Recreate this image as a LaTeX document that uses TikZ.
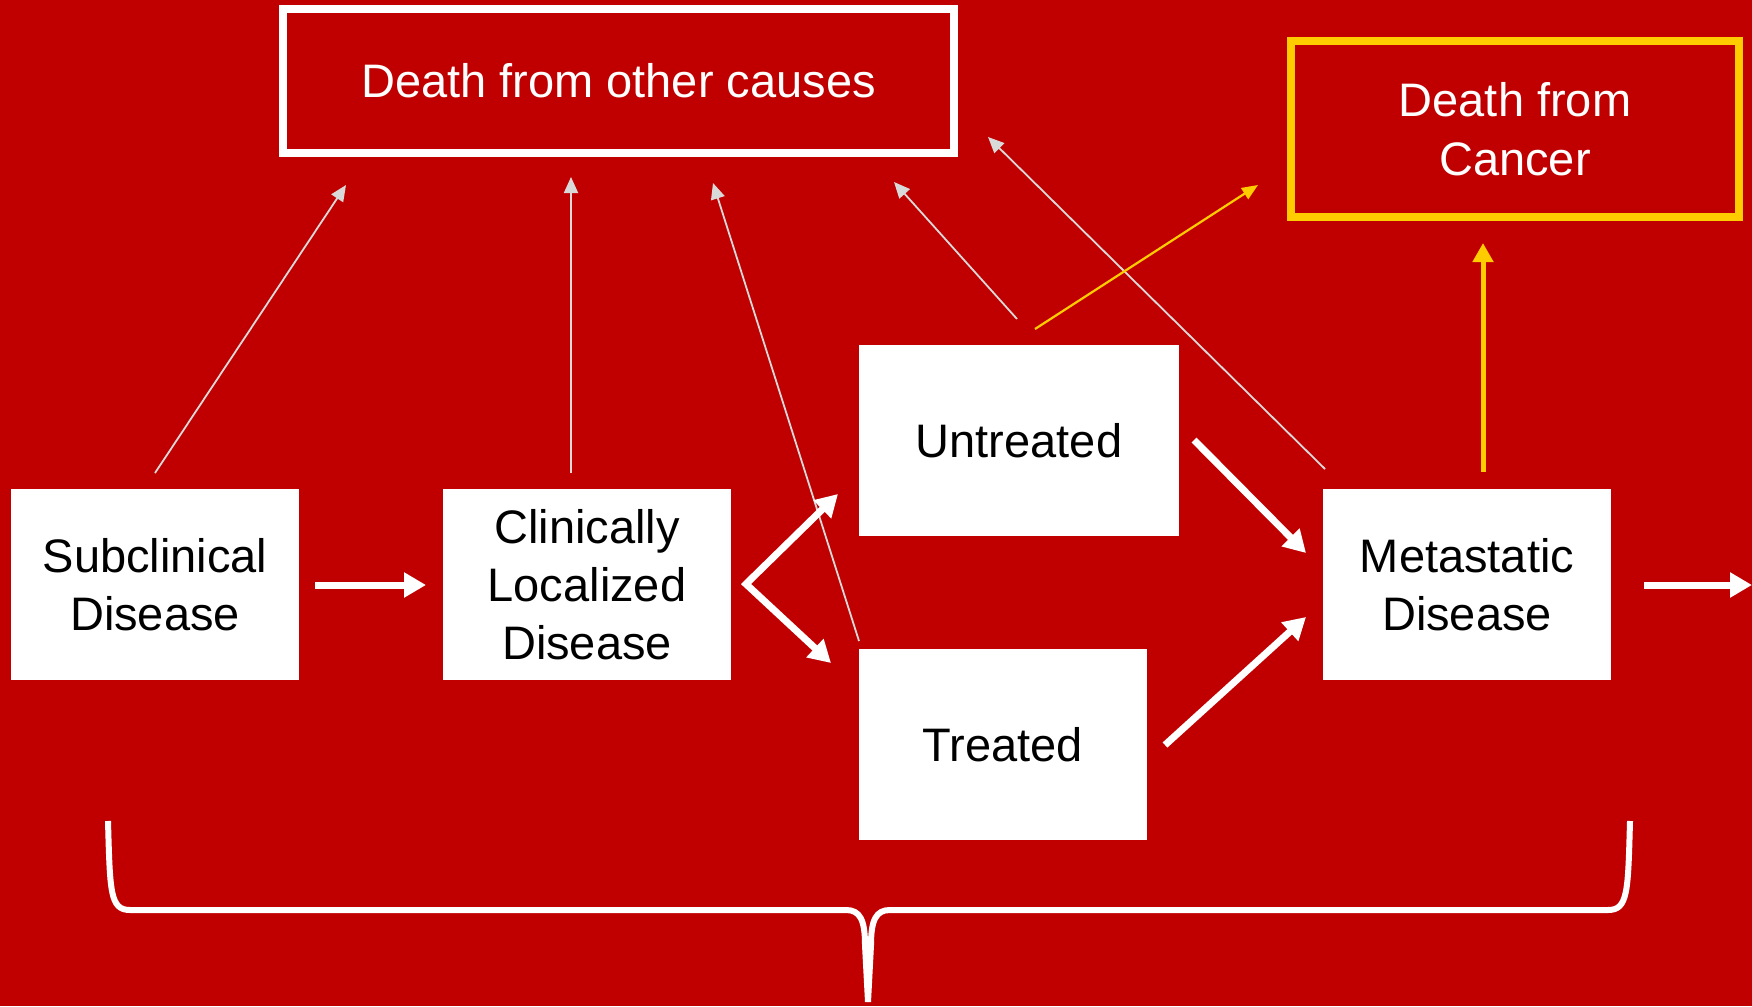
\documentclass[tikz,border=0pt]{standalone}
\usepackage{fontspec}
\setmainfont{Liberation Sans}
\usetikzlibrary{arrows.meta}
\definecolor{bgred}{RGB}{192,0,0}
\definecolor{lgray}{RGB}{217,217,217}
\definecolor{gold}{RGB}{255,204,0}
\begin{document}
\begin{tikzpicture}[x=1pt,y=-1pt,
  box/.style={fill=white, draw=none, minimum width=288pt, minimum height=191pt, inner sep=0pt, align=center, font=\fontsize{47}{58}\selectfont, text=black},
  outbox/.style={fill=none, line width=8pt, inner sep=0pt, align=center, font=\fontsize{47}{59}\selectfont, text=white},
  bigarrow/.style={draw=white, line width=7pt, -{Triangle[length=22pt,width=24pt]}},
  thinarrow/.style={draw=lgray, line width=1.8pt, -{Triangle[length=16pt,width=14pt]}},
  goldthin/.style={draw=gold, line width=2.2pt, -{Triangle[length=16pt,width=13pt]}},
  goldthick/.style={draw=gold, line width=5pt, -{Triangle[length=19pt,width=20pt]}},
  bracestyle/.style={draw=white, line width=6pt, line join=round, line cap=butt}
]
\useasboundingbox (0,0) rectangle (1752,1006);
\fill[bgred] (0,0) rectangle (1752,1006);

% nodes
\node[outbox, draw=white, minimum width=671pt, minimum height=144pt] (other) at (618.5,81) {Death from other causes};
\node[outbox, draw=gold, minimum width=448pt, minimum height=176pt] (cancer) at (1515,129) {Death from\\Cancer};
\node[box] (sub) at (155,584.5) {Subclinical\\Disease};
\node[box] (clin) at (587,584.5) {Clinically\\Localized\\Disease};
\node[box, minimum width=320pt] (untr) at (1019,440.5) {Untreated};
\node[box] (treat) at (1003,744.5) {Treated};
\node[box] (meta) at (1467,584.5) {Metastatic\\Disease};

% connector end points
\coordinate (a1s) at (315,585);   \coordinate (a1e) at (426,585);
\coordinate (bup) at (838,494);   \coordinate (bv) at (746,584);  \coordinate (bdn) at (831,663);
\coordinate (ums) at (1194,440);  \coordinate (ume) at (1306,553);
\coordinate (tms) at (1165,745);  \coordinate (tme) at (1306,617);
\coordinate (mos) at (1644,585);  \coordinate (moe) at (1752,585);
\coordinate (g1s) at (155,473);   \coordinate (g1e) at (346,185);
\coordinate (g2s) at (571,473);   \coordinate (g2e) at (571,177);
\coordinate (g3s) at (859,641);   \coordinate (g3e) at (713,183);
\coordinate (g4s) at (1017,319);  \coordinate (g4e) at (894,182);
\coordinate (g5s) at (1325,469);  \coordinate (g5e) at (988,137);
\coordinate (y1s) at (1035,329);  \coordinate (y1e) at (1258,185);
\coordinate (y2s) at (1483,472);  \coordinate (y2e) at (1483,243);

% thin grey arrows to death from other causes
\draw[thinarrow] (g1s) -- (g1e);
\draw[thinarrow] (g2s) -- (g2e);
\draw[thinarrow] (g3s) -- (g3e);
\draw[thinarrow] (g4s) -- (g4e);
\draw[thinarrow] (g5s) -- (g5e);

% yellow arrows
\draw[goldthin] (y1s) -- (y1e);
\draw[goldthick] (y2s) -- (y2e);

% thick white arrows
\draw[bigarrow] (a1s) -- (a1e);
\draw[draw=white, line width=7pt, line join=miter, {Triangle[length=22pt,width=24pt]}-{Triangle[length=22pt,width=24pt]}] (bup) -- (bv) -- (bdn);
\draw[bigarrow] (ums) -- (ume);
\draw[bigarrow] (tms) -- (tme);
\draw[bigarrow] (mos) -- (moe);

% brace
\coordinate (brL) at (108,821);
\coordinate (brR) at (1630,821);
\coordinate (brB) at (868,1002);
\draw[bracestyle] (brL) .. controls (110,892) and (110,910) .. (130,910) -- (846,910) .. controls (860,910) and (865,920) .. (865,945) -- (brB);
\draw[bracestyle] (brR) .. controls (1628,892) and (1628,910) .. (1608,910) -- (890,910) .. controls (876,910) and (871,920) .. (871,945) -- (brB);
\end{tikzpicture}
\end{document}
